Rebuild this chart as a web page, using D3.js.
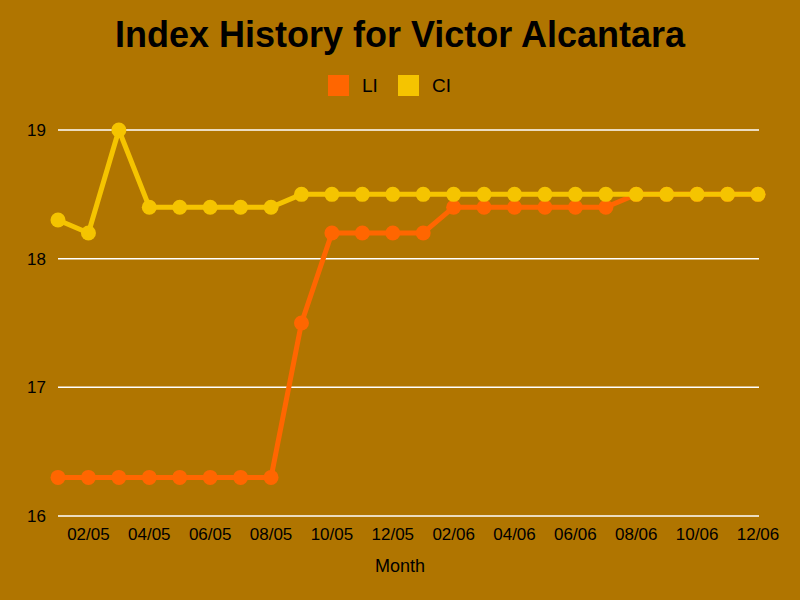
<!DOCTYPE html>
<html><head><meta charset="utf-8">
<script src="https://cdn.jsdelivr.net/npm/d3@7"></script>
<style>body{margin:0;background:#b07500}svg{display:block}</style>
</head><body>
<svg id="c" width="800" height="600"></svg>
<script>
const months = ["01/05","02/05","03/05","04/05","05/05","06/05","07/05","08/05","09/05","10/05","11/05","12/05",
"01/06","02/06","03/06","04/06","05/06","06/06","07/06","08/06","09/06","10/06","11/06","12/06"];
const liValues = [16.3,16.3,16.3,16.3,16.3,16.3,16.3,16.3,17.5,18.2,18.2,18.2,18.2,18.4,18.4,18.4,18.4,18.4,18.4,18.5,18.5,18.5,18.5,18.5];
const ciValues = [18.3,18.2,19.0,18.4,18.4,18.4,18.4,18.4,18.5,18.5,18.5,18.5,18.5,18.5,18.5,18.5,18.5,18.5,18.5,18.5,18.5,18.5,18.5,18.5];
const yTicks = [16,17,18,19];
const seriesNames = ["LI","CI"];
const colors = ["#ff6600","#f5c400"];

const svg = d3.select("#c");
const font = "'Liberation Sans', Arial, sans-serif";
svg.append("rect").attr("width",800).attr("height",600).attr("fill","#b07500");

const x = d3.scalePoint().domain(months).range([58,758]);
const y = d3.scaleLinear().domain([16,19]).range([516,130]);

svg.append("g").selectAll("line").data(yTicks).join("line")
  .attr("x1",58).attr("x2",759).attr("y1",d=>y(d)).attr("y2",d=>y(d))
  .attr("stroke","#fff").attr("stroke-width",1.5);

svg.append("g").selectAll("text").data(yTicks).join("text")
  .attr("x",46).attr("y",d=>y(d)+6).attr("text-anchor","end")
  .attr("font-family",font).attr("font-size",17).attr("fill","#000").text(d=>d);

svg.append("g").selectAll("text").data(months.filter((m,i)=>i%2===1)).join("text")
  .attr("x",d=>x(d)).attr("y",540).attr("text-anchor","middle")
  .attr("font-family",font).attr("font-size",17).attr("fill","#000").text(d=>d);

svg.append("text").attr("x",400).attr("y",572).attr("text-anchor","middle")
  .attr("font-family",font).attr("font-size",18).attr("fill","#000").text("Month");

svg.append("text").attr("x",400).attr("y",47).attr("text-anchor","middle")
  .attr("font-family",font).attr("font-size",36).attr("font-weight","bold").attr("fill","#000")
  .text("Index History for Victor Alcantara");

const legX = [328,398];
seriesNames.forEach((n,i)=>{
  svg.append("rect").attr("x",legX[i]).attr("y",75).attr("width",21).attr("height",21).attr("fill",colors[i]);
  svg.append("text").attr("x",legX[i]+34).attr("y",92).attr("font-family",font).attr("font-size",19).attr("fill","#000").text(n);
});

const line = d3.line().x((d,i)=>x(months[i])).y(d=>y(d));
[liValues,ciValues].forEach((vals,k)=>{
  const g = svg.append("g");
  g.append("path").attr("d",line(vals)).attr("fill","none").attr("stroke",colors[k]).attr("stroke-width",5).attr("stroke-linejoin","round");
  g.selectAll("circle").data(vals).join("circle")
    .attr("cx",(d,i)=>x(months[i])).attr("cy",d=>y(d)).attr("r",7.5).attr("fill",colors[k]);
});
</script>
</body></html>
